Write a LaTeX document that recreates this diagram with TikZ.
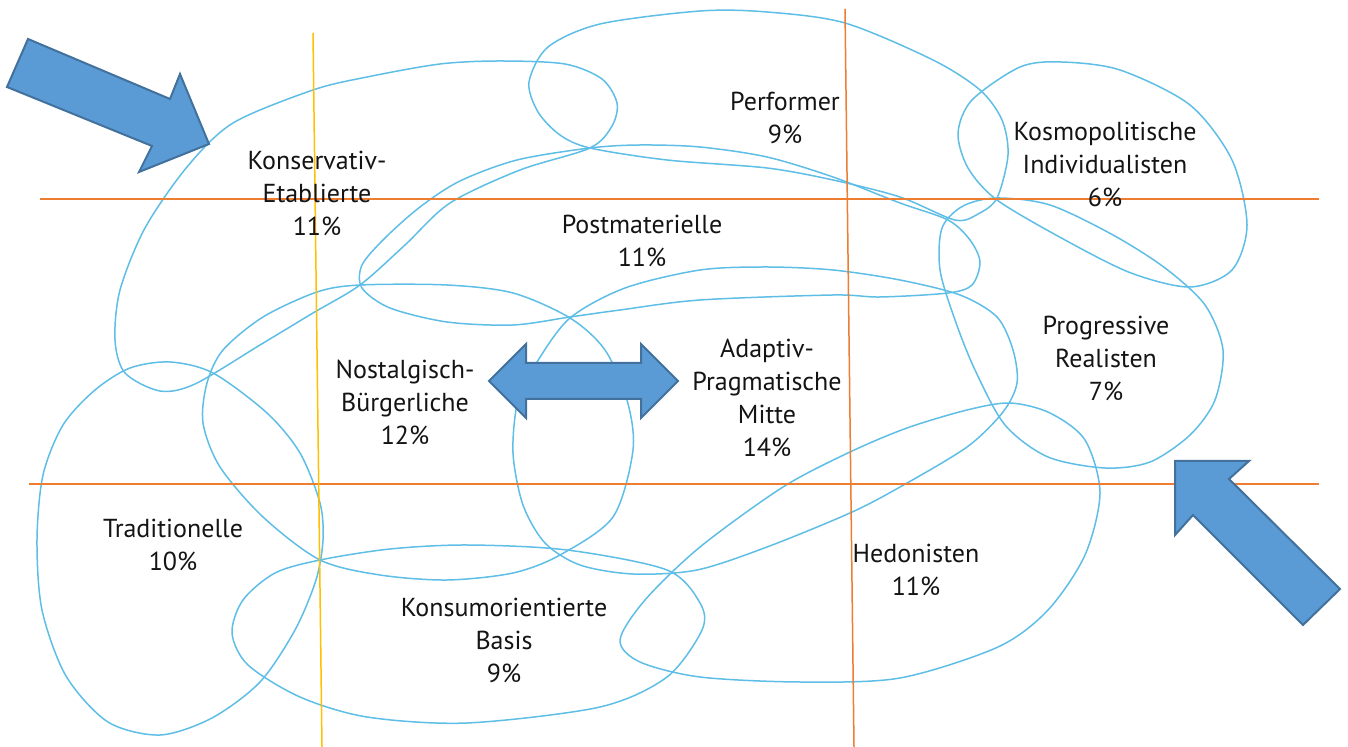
\documentclass[tikz,border=0pt]{standalone}
\usepackage{fontspec}
\setmainfont{PT Sans}
\definecolor{milieu edge}{RGB}{95,190,230}
\definecolor{axis orange}{RGB}{237,125,49}
\definecolor{axis yellow}{RGB}{255,192,0}
\definecolor{arrow area}{RGB}{91,155,213}
\definecolor{arrow edge}{RGB}{65,113,156}
\def\konsetab{plot[smooth cycle] coordinates {(590,148) (612,126) (617,103) (602,79) (565,64) (500,61) (440,64) (367,77) (313,90) (233,123) (187,167) (145,228) (120,290) (115,340) (125,373) (160,391) (195,384) (260,345) (313,313) (360,285) (405,245) (450,203) (520,170)}}
\def\perform{plot[smooth cycle] coordinates {(590,148) (560,135) (538,112) (529,82) (548,47) (600,24) (700,11) (767,12) (845,23) (933,60) (980,90) (1002,120) (1008,155) (997,198) (978,214) (955,220) (900,197) (833,180) (767,168) (667,160)}}
\def\postmat{plot[smooth cycle] coordinates {(590,148) (640,145) (700,147) (767,157) (833,177) (900,203) (948,220) (970,240) (980,262) (972,285) (948,293) (880,297) (833,295) (700,300) (620,310) (570,317) (513,325) (447,322) (390,308) (362,288) (362,265) (385,238) (420,207) (460,181) (517,160)}}
\def\kosmo{plot[smooth cycle] coordinates {(958,133) (972,100) (1020,67) (1061,62) (1120,70) (1190,105) (1232,160) (1247,225) (1232,270) (1190,287) (1131,273) (1065,240) (997,200) (968,168)}}
\def\progreal{plot[smooth cycle] coordinates {(997,198) (1050,205) (1113,235) (1165,268) (1205,305) (1223,350) (1215,400) (1190,435) (1150,462) (1105,468) (1048,457) (1005,425) (975,370) (955,320) (940,270) (942,228) (963,206)}}
\def\hedon{plot[smooth cycle] coordinates {(620,640) (645,600) (700,547) (783,487) (850,452) (907,428) (967,410) (1010,403) (1050,413) (1085,440) (1100,493) (1085,555) (1048,610) (998,647) (900,678) (800,682) (700,677) (640,662)}}
\def\adaptiv{plot[smooth cycle] coordinates {(513,453) (518,400) (537,362) (570,318) (625,288) (700,270) (767,267) (833,270) (900,280) (960,295) (997,317) (1013,350) (1017,383) (1003,412) (967,447) (900,487) (850,513) (767,547) (697,570) (633,574) (580,565) (545,543) (523,505)}}
\def\nostalg{plot[smooth cycle] coordinates {(360,285) (447,285) (513,293) (570,318) (605,350) (627,400) (633,450) (613,517) (560,555) (513,573) (447,580) (380,575) (320,560) (263,517) (220,467) (203,423) (207,383) (223,350) (263,317) (317,292)}}
\def\tradit{plot[smooth cycle] coordinates {(213,373) (267,413) (300,453) (320,503) (323,540) (316,580) (295,630) (260,682) (212,718) (160,735) (108,722) (66,676) (42,610) (37,540) (43,475) (63,425) (95,390) (130,368) (170,362)}}
\def\konsum{plot[smooth cycle] coordinates {(320,560) (390,549) (467,545) (567,550) (667,570) (700,603) (702,630) (667,677) (600,707) (467,723) (367,717) (300,697) (248,665) (232,633) (243,600) (275,573)}}
\tikzset{
  blob/.style={draw=milieu edge, line width=0.75pt},
  axisline/.style={line width=0.75pt},
  bigarrow/.style={fill=arrow area, draw=arrow edge, line width=1pt, line join=miter},
  milieu/.style={align=center, inner sep=0pt, text=black!92,
    font=\fontsize{13}{16.5}\selectfont}
}

\begin{document}
\begin{tikzpicture}[x=0.5pt, y=-0.5pt]
    \useasboundingbox (0,0) rectangle (1348,747);
    \foreach \milieupath in {\konsetab, \perform, \postmat, \kosmo, \progreal,
                             \hedon, \adaptiv, \nostalg, \tradit, \konsum}
      \draw[blob] \milieupath;
    \draw[axisline, axis orange] (40,199) -- (1319,199);
    \draw[axisline, axis orange] (29,484) -- (1319,484);
    \draw[axisline, axis orange] (845,9) -- (854,747);
    \draw[axisline, axis yellow] (313,33) -- (322,747);
    \draw[bigarrow] (28,39) -- (170,99) -- (180,74) -- (209,144) -- (139,172)
      -- (152,146) -- (7,87) -- cycle;
    \draw[bigarrow] (1175,461) -- (1249,461) -- (1229,479) -- (1340,589)
      -- (1303,625) -- (1193,515) -- (1175,535) -- cycle;
    \draw[bigarrow] (489,381) -- (526,344) -- (526,363) -- (641,363) -- (641,344)
      -- (678,381) -- (641,418) -- (641,399) -- (526,399) -- (526,418) -- cycle;
    \node[milieu] (konsetab) at (317,193) {Konservativ-\\Etablierte\\11\%};
    \node[milieu] (perform) at (785,118) {Performer\\9\%};
    \node[milieu] (kosmo) at (1105,164) {Kosmopolitische\\Individualisten\\6\%};
    \node[milieu] (postmat) at (642,241) {Postmaterielle\\11\%};
    \node[milieu] (nostalg) at (405,402) {Nostalgisch-\\Bürgerliche\\12\%};
    \node[milieu] (adaptiv) at (767,398) {Adaptiv-\\Pragmatische\\Mitte\\14\%};
    \node[milieu] (progreal) at (1106,358) {Progressive\\Realisten\\7\%};
    \node[milieu] (tradit) at (173,545) {Traditionelle\\10\%};
    \node[milieu] (konsum) at (504,640) {Konsumorientierte\\Basis\\9\%};
    \node[milieu] (hedon) at (916,570) {Hedonisten\\11\%};
\end{tikzpicture}
\end{document}
